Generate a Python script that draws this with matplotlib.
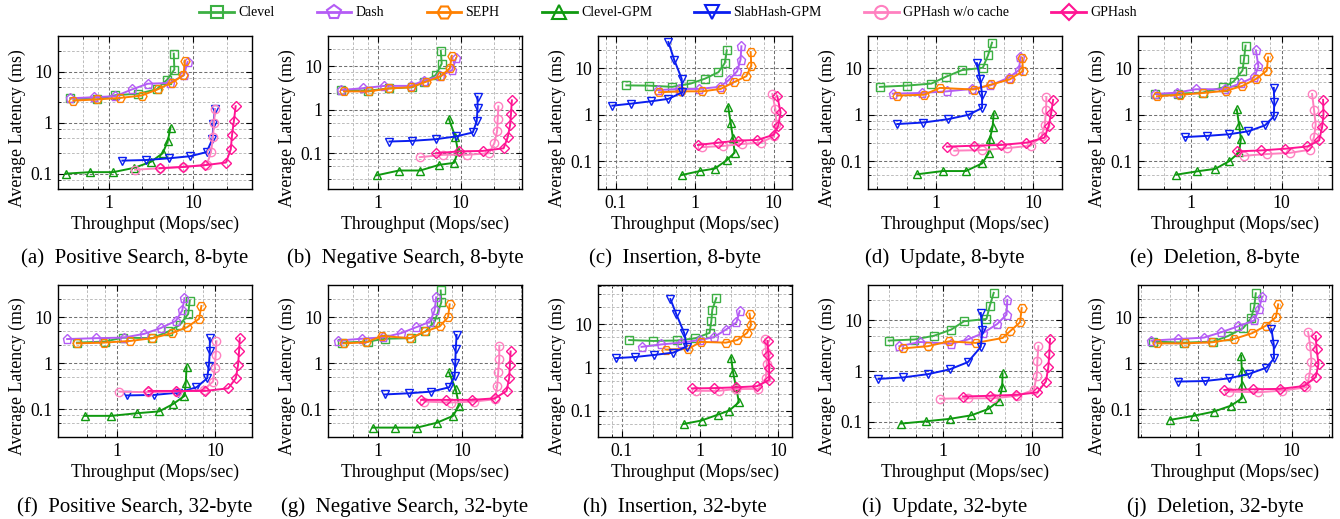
import matplotlib
matplotlib.use('Agg')
import matplotlib.pyplot as plt
from matplotlib.ticker import FixedLocator, LogLocator, NullFormatter, FuncFormatter
from matplotlib.lines import Line2D

plt.rcParams['font.family'] = ['Liberation Serif', 'DejaVu Serif']

series_names = ['Clevel', 'Dash', 'SEPH', 'Clevel-GPM', 'SlabHash-GPM',
                'GPHash w/o cache', 'GPHash']
panel_titles = ['(a)  Positive Search, 8-byte', '(b)  Negative Search, 8-byte',
                '(c)  Insertion, 8-byte', '(d)  Update, 8-byte',
                '(e)  Deletion, 8-byte', '(f)  Positive Search, 32-byte',
                '(g)  Negative Search, 32-byte', '(h)  Insertion, 32-byte',
                '(i)  Update, 32-byte', '(j)  Deletion, 32-byte']
x_label = 'Throughput (Mops/sec)'
y_label = 'Average Latency (ms)'

# ---- data: throughput (Mops/sec) and latency (ms), one list per series ----
# (a) Positive Search, 8-byte
a_tput = [[0.35, 0.72, 1.2, 2.25, 3.7, 4.9, 6.0, 5.9],
          [0.35, 0.66, 1.2, 1.9, 2.9, 5.3, 7.8, 8.6],
          [0.38, 0.72, 1.36, 2.45, 3.8, 5.6, 7.7, 8.0],
          [0.31, 0.6, 1.13, 2.0, 3.15, 4.35, 5.0, 5.4],
          [1.45, 2.75, 5.2, 9.3, 14.5, 17, 17.4, 18.2],
          [2.05, 4.1, 7.7, 14.5, 16.3, 17.2, 17.7, 18.2],
          [4.0, 7.6, 14, 24.5, 28, 29, 30.5, 32]]
a_lat = [[3.0, 2.85, 3.45, 3.7, 4.5, 6.9, 11, 22.5],
         [3.0, 3.15, 3.3, 4.5, 5.8, 6.0, 8.5, 15.5],
         [2.7, 2.85, 3.05, 3.4, 4.5, 6.1, 8.5, 16.5],
         [0.1, 0.107, 0.107, 0.13, 0.17, 0.25, 0.43, 0.8],
         [0.18, 0.185, 0.2, 0.22, 0.265, 0.48, 0.95, 1.85],
         [0.12, 0.127, 0.137, 0.148, 0.26, 0.52, 0.98, 1.85],
         [0.128, 0.135, 0.147, 0.165, 0.3, 0.58, 1.08, 2.1]]

# (b) Negative Search, 8-byte
b_tput = [[0.36, 0.75, 1.35, 2.6, 3.6, 5.0, 5.9, 5.75],
          [0.36, 0.67, 1.2, 2.5, 3.6, 5.7, 7.9, 8.8],
          [0.39, 0.78, 1.36, 2.5, 3.8, 5.75, 7.4, 7.8],
          [0.97, 1.8, 3.25, 5.5, 8.3, 9.3, 8.6, 7.2],
          [1.38, 2.6, 5.0, 8.7, 14, 15.6, 16, 16],
          [3.2, 6.2, 12, 22, 25.5, 27.5, 28, 28.5],
          [5.0, 9.5, 18.5, 33, 37, 39.5, 40.5, 41.5]]
b_lat = [[2.9, 2.75, 3.1, 3.3, 4.4, 6.3, 11.5, 23],
         [2.85, 3.15, 3.55, 3.55, 4.7, 6.0, 8.2, 15.5],
         [2.65, 2.65, 3.1, 3.3, 4.4, 5.9, 9.1, 17.5],
         [0.031, 0.04, 0.04, 0.054, 0.06, 0.11, 0.24, 0.62],
         [0.186, 0.193, 0.21, 0.243, 0.3, 0.54, 1.1, 2.0],
         [0.081, 0.092, 0.092, 0.1, 0.17, 0.32, 0.61, 1.2],
         [0.1, 0.11, 0.113, 0.13, 0.234, 0.44, 0.81, 1.65]]

# (c) Insertion, 8-byte
c_tput = [[0.137, 0.265, 0.52, 0.89, 1.35, 2.0, 2.4, 2.55],
          [0.34, 0.63, 1.13, 2.07, 2.7, 3.45, 3.8, 3.9],
          [0.355, 0.665, 1.25, 2.13, 3.1, 4.5, 5.2, 5.1],
          [0.685, 1.16, 1.8, 2.55, 3.2, 3.05, 2.85, 2.65],
          [0.091, 0.155, 0.28, 0.465, 0.7, 0.685, 0.55, 0.465],
          [1.25, 2.3, 4.0, 6.8, 10.0, 10.8, 10.5, 9.6],
          [1.1, 2.0, 3.55, 6.2, 10, 11.4, 12.2, 11.1]]
c_lat = [[4.3, 4.25, 4.0, 4.7, 6.0, 8.3, 13, 24.5],
         [3.4, 3.6, 3.6, 4.0, 5.6, 8.7, 15.5, 30],
         [3.05, 3.2, 3.2, 3.6, 5.0, 6.8, 11.5, 22.5],
         [0.05, 0.061, 0.069, 0.105, 0.152, 0.31, 0.68, 1.5],
         [1.57, 1.73, 1.95, 2.2, 3.05, 6.0, 15.5, 37],
         [0.2, 0.212, 0.234, 0.25, 0.34, 0.64, 1.3, 2.8],
         [0.223, 0.25, 0.277, 0.286, 0.37, 0.58, 1.12, 2.5]]

# (d) Update, 8-byte
d_tput = [[0.265, 0.5, 0.9, 1.27, 1.87, 3.05, 3.45, 3.8],
          [0.36, 0.72, 1.3, 2.35, 3.65, 5.65, 7.2, 7.45],
          [0.4, 0.76, 1.1, 2.45, 3.75, 5.8, 7.9, 7.8],
          [0.645, 1.18, 2.04, 3.0, 3.5, 3.6, 3.85, 3.95],
          [0.4, 0.745, 1.33, 2.18, 3.0, 3.0, 2.87, 2.65],
          [1.55, 3.0, 5.4, 9.5, 12.3, 13.3, 13.7, 13.8],
          [1.3, 2.5, 4.75, 8.6, 13.2, 14.6, 15.5, 16.2]]
d_lat = [[4.0, 4.25, 4.7, 6.6, 9.2, 10.3, 19, 36],
         [2.85, 2.95, 3.2, 3.6, 4.3, 6.3, 9.2, 17.5],
         [2.6, 2.7, 3.8, 3.5, 4.5, 5.8, 8.7, 17],
         [0.052, 0.061, 0.061, 0.089, 0.147, 0.295, 0.54, 1.05],
         [0.63, 0.68, 0.8, 1.0, 1.4, 2.7, 5.8, 13],
         [0.168, 0.173, 0.19, 0.215, 0.34, 0.61, 1.28, 2.4],
         [0.205, 0.215, 0.223, 0.25, 0.32, 0.58, 1.1, 2.1]]

# (e) Deletion, 8-byte
e_tput = [[0.4, 0.71, 1.34, 2.28, 2.95, 3.7, 3.85, 4.0],
          [0.4, 0.7, 1.13, 2.38, 3.55, 5.0, 5.55, 5.2],
          [0.42, 0.76, 1.36, 2.45, 3.7, 5.2, 6.85, 7.1],
          [0.69, 1.16, 1.85, 2.65, 3.4, 3.55, 3.4, 3.2],
          [0.85, 1.5, 2.65, 4.3, 6.55, 8.2, 8.3, 8.2],
          [3.8, 6.85, 12.3, 20.5, 22.8, 23.8, 22.8, 21.7],
          [3.2, 5.9, 11, 19.3, 26, 28, 29, 28.7]]
e_lat = [[2.8, 2.85, 3.0, 3.9, 5.2, 9.0, 16, 31],
         [2.8, 3.0, 3.55, 3.55, 4.8, 6.5, 11, 24.5],
         [2.5, 2.7, 2.95, 3.3, 4.2, 5.9, 8.9, 17.3],
         [0.051, 0.06, 0.068, 0.1, 0.155, 0.3, 0.6, 1.3],
         [0.33, 0.35, 0.38, 0.44, 0.59, 0.92, 1.85, 3.8],
         [0.13, 0.142, 0.15, 0.176, 0.33, 0.61, 1.28, 2.8],
         [0.162, 0.17, 0.185, 0.207, 0.28, 0.54, 1.03, 2.1]]

# (f) Positive Search, 32-byte
f_tput = [[0.39, 0.75, 1.15, 2.3, 3.35, 4.4, 5.35, 5.55],
          [0.31, 0.61, 1.17, 1.9, 2.8, 4.0, 4.65, 4.9],
          [0.39, 0.73, 1.37, 2.3, 3.65, 5.2, 6.9, 7.3],
          [0.47, 0.875, 1.6, 2.7, 3.75, 4.9, 5.05, 5.15],
          [1.26, 2.4, 4.25, 6.5, 8.35, 8.7, 8.9, 8.9],
          [1.06, 2.1, 4.1, 7.7, 9.6, 10, 10.2, 10.4],
          [2.1, 4.0, 7.9, 13.7, 16.4, 17.3, 17.7, 18]]
f_lat = [[2.8, 2.95, 3.6, 3.5, 4.9, 6.8, 11.8, 23],
         [3.35, 3.5, 3.6, 4.35, 5.8, 8.3, 14, 26],
         [2.7, 2.8, 3.05, 3.5, 4.5, 6.05, 9.2, 17.5],
         [0.072, 0.072, 0.082, 0.09, 0.13, 0.195, 0.38, 0.82],
         [0.2, 0.205, 0.23, 0.3, 0.47, 0.88, 1.8, 3.5],
         [0.242, 0.234, 0.242, 0.265, 0.4, 0.8, 1.5, 3.0],
         [0.25, 0.25, 0.25, 0.285, 0.47, 0.92, 1.8, 3.5]]

# (g) Negative Search, 32-byte
g_tput = [[0.37, 0.745, 1.2, 2.45, 3.65, 4.7, 5.65, 5.55],
          [0.33, 0.63, 1.15, 1.87, 2.8, 4.15, 4.7, 4.9],
          [0.385, 0.72, 1.1, 2.4, 3.65, 5.4, 6.8, 7.1],
          [0.855, 1.6, 2.9, 5.0, 7.8, 9.2, 8.4, 7.0],
          [1.2, 2.35, 4.3, 7.0, 8.15, 8.3, 8.4, 8.6],
          [3.55, 7.3, 13.8, 24.7, 26.3, 27, 27.8, 27.8],
          [3.25, 6.5, 13.2, 24.7, 34, 36.5, 37.3, 38]]
g_lat = [[2.8, 2.95, 3.4, 3.5, 4.9, 8.0, 21, 38],
         [3.1, 3.4, 3.65, 4.5, 6.0, 8.0, 14, 27],
         [2.7, 2.85, 3.9, 3.5, 4.9, 6.3, 10, 19],
         [0.04, 0.04, 0.04, 0.051, 0.072, 0.12, 0.27, 0.63],
         [0.21, 0.223, 0.242, 0.3, 0.53, 1.03, 2.0, 4.1],
         [0.147, 0.14, 0.147, 0.165, 0.32, 0.63, 1.22, 2.4],
         [0.16, 0.16, 0.16, 0.173, 0.25, 0.47, 0.92, 1.8]]

# (h) Insertion, 32-byte
h_tput = [[0.125, 0.255, 0.51, 0.87, 1.33, 1.4, 1.44, 1.62],
          [0.18, 0.316, 0.57, 1.0, 1.5, 2.15, 2.93, 3.22],
          [0.365, 0.715, 1.02, 2.15, 3.0, 4.0, 4.5, 4.3],
          [0.62, 1.05, 1.7, 2.37, 3.15, 2.9, 2.65, 2.5],
          [0.085, 0.15, 0.26, 0.455, 0.68, 0.63, 0.5, 0.42],
          [0.88, 1.73, 2.93, 5.6, 6.95, 7.15, 7.0, 6.8],
          [0.79, 1.5, 2.93, 5.35, 7.65, 7.65, 7.5, 7.3]]
h_lat = [[4.3, 4.1, 4.2, 4.7, 6.3, 11.7, 21.7, 40],
         [3.0, 3.4, 3.75, 4.3, 5.0, 7.5, 11, 20],
         [2.6, 2.7, 3.9, 3.75, 4.3, 6.3, 9.5, 17.5],
         [0.05, 0.06, 0.082, 0.102, 0.158, 0.35, 0.77, 1.7],
         [1.65, 1.75, 1.95, 2.2, 3.05, 6.3, 17, 38],
         [0.29, 0.29, 0.32, 0.32, 0.57, 1.19, 2.3, 4.5],
         [0.33, 0.335, 0.35, 0.37, 0.52, 0.97, 1.95, 4.1]]

# (i) Update, 32-byte
i_tput = [[0.247, 0.48, 0.8, 1.24, 1.72, 3.07, 3.35, 3.7],
          [0.325, 0.555, 1.24, 1.9, 2.8, 4.05, 5.15, 5.25],
          [0.355, 0.68, 1.16, 2.33, 4.65, 5.6, 7.3, 7.6],
          [0.34, 0.64, 1.19, 2.08, 3.2, 4.25, 4.6, 4.65],
          [0.19, 0.36, 0.68, 1.19, 1.9, 2.65, 2.77, 2.65],
          [0.93, 1.9, 3.65, 6.8, 10.4, 11.2, 11.4, 11.7],
          [1.68, 3.35, 6.65, 11.4, 14.2, 15.1, 15.5, 15.8]]
i_lat = [[4.0, 4.2, 5.0, 6.6, 9.6, 10.7, 19.5, 35],
         [3.1, 3.75, 3.45, 4.2, 5.6, 8.5, 13, 25.5],
         [2.8, 3.1, 3.85, 3.6, 4.5, 6.05, 9.2, 17.5],
         [0.092, 0.102, 0.114, 0.134, 0.178, 0.26, 0.48, 0.9],
         [0.7, 0.75, 0.87, 1.08, 1.5, 3.0, 6.5, 14],
         [0.285, 0.29, 0.29, 0.325, 0.425, 0.8, 1.6, 3.1],
         [0.315, 0.325, 0.34, 0.38, 0.62, 1.18, 2.15, 4.3]]

# (j) Deletion, 32-byte
j_tput = [[0.33, 0.72, 1.45, 2.1, 3.05, 3.7, 4.0, 4.15],
          [0.32, 0.61, 1.16, 1.77, 2.67, 4.0, 4.5, 4.85],
          [0.37, 0.73, 1.42, 2.42, 3.8, 5.3, 6.8, 7.2],
          [0.51, 0.9, 1.48, 2.26, 2.95, 2.95, 2.95, 2.9],
          [0.61, 1.18, 2.15, 3.55, 5.4, 6.5, 6.45, 6.1],
          [2.15, 4.4, 8.0, 14.4, 15.4, 16.3, 15.8, 15],
          [1.92, 3.85, 7.55, 13.6, 18.1, 19.4, 18.5, 18.1]]
j_lat = [[2.95, 2.8, 2.95, 3.9, 5.8, 9.5, 17, 33],
         [3.1, 3.35, 3.6, 4.7, 6.3, 8.5, 15, 28],
         [2.7, 2.7, 2.85, 3.35, 4.5, 6.5, 10, 19],
         [0.059, 0.072, 0.089, 0.12, 0.173, 0.34, 0.69, 1.45],
         [0.4, 0.41, 0.47, 0.59, 0.8, 1.28, 2.6, 5.5],
         [0.242, 0.234, 0.255, 0.3, 0.51, 1.09, 2.4, 4.8],
         [0.263, 0.272, 0.277, 0.32, 0.5, 0.97, 2.0, 3.9]]

panel_tputs = [a_tput, b_tput, c_tput, d_tput, e_tput,
               f_tput, g_tput, h_tput, i_tput, j_tput]
panel_lats = [a_lat, b_lat, c_lat, d_lat, e_lat,
              f_lat, g_lat, h_lat, i_lat, j_lat]

# axis ranges per panel
x_ranges = [(0.25, 50), (0.25, 55), (0.06, 17), (0.2, 20), (0.26, 36),
            (0.25, 24), (0.25, 52), (0.05, 15), (0.145, 21.5), (0.23, 27)]
y_ranges = [(0.05, 50), (0.015, 50), (0.025, 50), (0.025, 50), (0.025, 50),
            (0.025, 50), (0.025, 50), (0.025, 80), (0.05, 50), (0.025, 50)]

# ---- styles ----
colors = ['#3cb043', '#b45cf5', '#ff8000', '#0f990f', '#0a1ef0', '#ff80c0', '#ff1493']
markers = ['s', 'p', 'H', '^', 'v', 'o', 'D']
msizes = [5.5, 6.5, 6.5, 6, 6, 6, 4.8]

W, H = 1340, 519
fig = plt.figure(figsize=(W / 100, H / 100), dpi=100)

fmt = FuncFormatter(lambda v, p: '%g' % v)

for k in range(10):
    row, col = divmod(k, 5)
    left = 58 + 270 * col
    top = 36 if row == 0 else 285
    bottom = 189 if row == 0 else 437
    ax = fig.add_axes([left / W, 1 - bottom / H, 194 / W, (bottom - top) / H])
    ax.set_xscale('log')
    ax.set_yscale('log')
    for s in range(7):
        ax.plot(panel_tputs[k][s], panel_lats[k][s], color=colors[s],
                marker=markers[s], ms=msizes[s], mfc='none', mec=colors[s],
                mew=1.0, lw=1.4, zorder=3 + s)
    ax.set_xlim(*x_ranges[k])
    ax.set_ylim(*y_ranges[k])
    for axis in (ax.xaxis, ax.yaxis):
        axis.set_major_locator(FixedLocator([0.01, 0.1, 1, 10, 100]))
        axis.set_major_formatter(fmt)
        axis.set_minor_locator(LogLocator(base=10, subs=(2.5, 5, 7.5), numticks=20))
        axis.set_minor_formatter(NullFormatter())
    ax.grid(which='major', ls=(0, (3, 2)), color='#707070', lw=0.75, zorder=0)
    ax.grid(which='minor', ls=(0, (3, 2)), color='#b8b8b8', lw=0.65, zorder=0)
    ax.set_axisbelow(True)
    ax.tick_params(which='both', direction='in', top=True, right=True,
                   labelsize=12.8, pad=4)
    ax.tick_params(which='major', length=4, width=0.8)
    ax.tick_params(which='minor', length=2, width=0.6)
    for sp in ax.spines.values():
        sp.set_linewidth(1.0)
    ax.set_xlabel(x_label, fontsize=12.8, labelpad=3)
    ax.set_ylabel(y_label, fontsize=12.8)
    ax.yaxis.set_label_coords(-0.165, 0.40)
    cap_y = 258 if row == 0 else 507
    fig.text((135 + 270 * col) / W, 1 - cap_y / H, panel_titles[k],
             ha='center', va='center', fontsize=15)

handles = [Line2D([], [], color=colors[s], marker=markers[s], ms=msizes[s] + 3.5,
                  mfc='none', mec=colors[s], mew=1.5, lw=2.0)
           for s in range(7)]
fig.legend(handles, series_names, loc='center', bbox_to_anchor=(668 / W, 1 - 13 / H),
           ncol=7, frameon=False, fontsize=10, handlelength=2.5,
           handletextpad=0.3, columnspacing=3.05, borderpad=0, borderaxespad=0)

fig.savefig('out.png', dpi=100)
